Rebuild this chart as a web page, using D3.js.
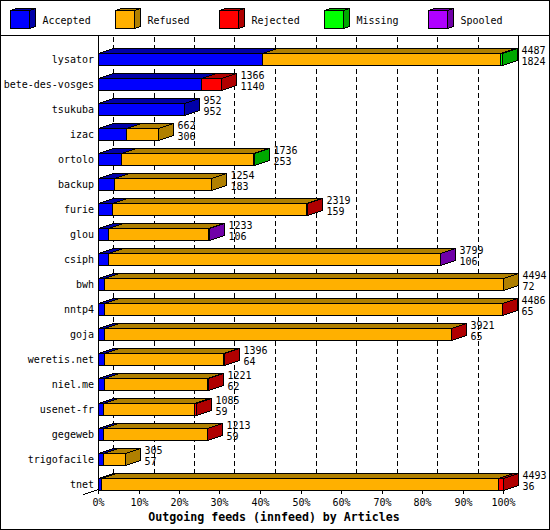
<!DOCTYPE html>
<html><head><meta charset="utf-8">
<script src="https://cdn.jsdelivr.net/npm/d3@7"></script>
<style>
body{margin:0;background:#fff;}
text{font-family:"DejaVu Sans Mono","Liberation Mono",monospace;font-size:10px;fill:#000;}
</style></head><body>
<svg id="c" width="550" height="530"></svg>
<script>
const categories = ["lysator","bete-des-vosges","tsukuba","izac","ortolo","backup","furie","glou","csiph","bwh","nntp4","goja","weretis.net","niel.me","usenet-fr","gegeweb","trigofacile","tnet"];
const accepted = [1824,1140,952,306,253,183,159,106,106,72,65,65,64,62,59,59,57,36];
const refused  = [2638,0,0,356,1471,1071,2152,1119,3685,4422,4413,3848,1322,1151,1004,1146,248,4402];
const rejected = [0,226,0,0,0,0,8,0,0,0,8,8,10,8,22,8,0,55];
const missing  = [25,0,0,0,12,0,0,0,0,0,0,0,0,0,0,0,0,0];
const spooled  = [0,0,0,0,0,0,0,8,8,0,0,0,0,0,0,0,0,0];
const seriesNames = ["Accepted","Refused","Rejected","Missing","Spooled"];
const pctTicks = [0,10,20,30,40,50,60,70,80,90,100];
const xTitle = "Outgoing feeds (innfeed) by Articles";

const frontColors = ["#0000ff","#ffb000","#ff0000","#00ff00","#b000ff"];
const darkColors  = ["#0000a8","#b08000","#b00000","#00a800","#7000a8"];

const series = [accepted, refused, rejected, missing, spooled];
const totals = categories.map((c,i)=>d3.sum(series, s=>s[i]));
const maxTotal = d3.max(totals);

const W=550,H=530, DX=15, DY=5, BH=6;
const svg = d3.select("#c");
svg.append("rect").attr("x",0).attr("y",0).attr("width",W).attr("height",H).attr("fill","#fff");

const pct = d3.scaleLinear().domain([0,100]).range([98.5,503.5]);
const xv = d3.scaleLinear().domain([0,maxTotal]).range([98.5,503.5]);
const y = d3.scalePoint().domain(categories).range([59.5,484.5]);
const px = v => Math.round(v-0.5)+0.5;
const floorY = 490.5, topY = 35.5;

const g = svg.append("g").attr("shape-rendering","crispEdges");

// back gridlines
g.selectAll("line.grid").data(pctTicks.slice(0,-1)).join("line")
  .attr("x1",d=>px(pct(d))+DX).attr("x2",d=>px(pct(d))+DX)
  .attr("y1",topY+1).attr("y2",floorY-DY)
  .attr("stroke","#000").attr("stroke-dasharray","5,3");
// right border (100%)
g.append("line").attr("x1",px(pct(100))+DX).attr("x2",px(pct(100))+DX)
  .attr("y1",topY).attr("y2",floorY-DY).attr("stroke","#000");
// left axis
g.append("line").attr("x1",pct(0)).attr("x2",pct(0)).attr("y1",topY).attr("y2",floorY).attr("stroke","#000");
g.append("line").attr("x1",pct(0)).attr("x2",pct(0)-DX).attr("y1",floorY-1).attr("y2",floorY-1+DY).attr("stroke","#000");
g.append("line").attr("x1",pct(0)).attr("x2",pct(100)).attr("y1",floorY).attr("y2",floorY).attr("stroke","#000");
// ticks
g.selectAll("line.tick").data(pctTicks).join("line")
  .attr("x1",d=>px(pct(d))).attr("x2",d=>px(pct(d))).attr("y1",floorY).attr("y2",floorY+3.5).attr("stroke","#000");
svg.selectAll("text.tick").data(pctTicks).join("text")
  .attr("x",d=>px(pct(d))).attr("y",506).attr("text-anchor","middle").text(d=>d+"%");

// bars
categories.forEach((c,i)=>{
  const yc = y(c), yt = yc-BH, yb = yc+BH;
  let cum = 0, last = -1;
  const segs = [];
  series.forEach((s,k)=>{
    if (s[i]>0){ segs.push({k, x0:px(xv(cum)), x1:px(xv(cum+s[i]))}); cum += s[i]; last = k; }
  });
  const bg = g.append("g");
  segs.forEach(sg=>{
    bg.append("rect").attr("x",sg.x0).attr("y",yt).attr("width",sg.x1-sg.x0).attr("height",yb-yt)
      .attr("fill",frontColors[sg.k]).attr("stroke","#000");
    bg.append("polygon").attr("points",[[sg.x0,yt],[sg.x1,yt],[sg.x1+DX,yt-DY],[sg.x0+DX,yt-DY]].join(" "))
      .attr("fill",darkColors[sg.k]).attr("stroke","#000");
  });
  const xe = segs[segs.length-1].x1;
  bg.append("polygon").attr("points",[[xe,yt],[xe+DX,yt-DY],[xe+DX,yb-DY],[xe,yb]].join(" "))
    .attr("fill",darkColors[last]).attr("stroke","#000");
  svg.append("text").attr("x",xe+DX+4).attr("y",yc-5.5).text(totals[i]);
  svg.append("text").attr("x",xe+DX+4).attr("y",yc+5.5).text(accepted[i]);
  svg.append("text").attr("x",94).attr("y",yc+3.5).attr("text-anchor","end").text(c);
});

// legend
const lg = svg.append("g").attr("shape-rendering","crispEdges");
seriesNames.forEach((n,k)=>{
  const x0 = 10.5 + Math.round(k*104.5), y0 = 10.5, w = 19, h = 18, d=6, dy=2;
  lg.append("rect").attr("x",x0).attr("y",y0).attr("width",w).attr("height",h).attr("fill",frontColors[k]).attr("stroke","#000");
  lg.append("polygon").attr("points",[[x0,y0],[x0+w,y0],[x0+w+d,y0-dy],[x0+d,y0-dy]].join(" ")).attr("fill",darkColors[k]).attr("stroke","#000");
  lg.append("polygon").attr("points",[[x0+w,y0],[x0+w+d,y0-dy],[x0+w+d,y0+h-dy],[x0+w,y0+h]].join(" ")).attr("fill",darkColors[k]).attr("stroke","#000");
  svg.append("text").attr("x",x0+32).attr("y",23.5).text(n);
});
svg.append("line").attr("x1",0).attr("x2",W).attr("y1",35.5).attr("y2",35.5).attr("stroke","#000").attr("shape-rendering","crispEdges");
svg.append("text").attr("x",274).attr("y",521).attr("text-anchor","middle")
  .style("font-weight","bold").style("font-size","11.6px").text(xTitle);
svg.append("rect").attr("x",0.5).attr("y",0.5).attr("width",W-1).attr("height",H-1).attr("fill","none").attr("stroke","#000").attr("shape-rendering","crispEdges");
</script></body></html>
